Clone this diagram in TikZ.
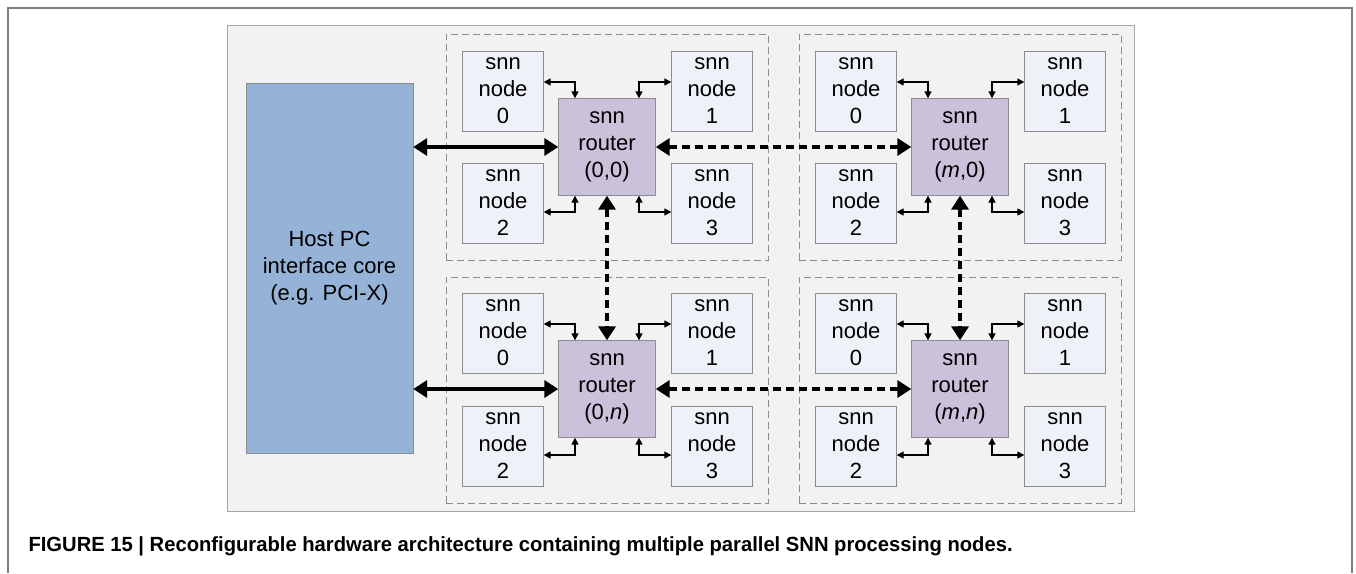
\documentclass[tikz,border=0pt]{standalone}
\usepackage{fontspec}
\setmainfont{Liberation Sans}
\newfontfamily\capfont[FakeStretch=0.985]{Liberation Sans}
\usepackage{tikz}
\usetikzlibrary{arrows.meta}
\definecolor{panel}{HTML}{F2F2F2}
\definecolor{panelline}{HTML}{A6A6A6}
\definecolor{frameline}{HTML}{7F7F7F}
\definecolor{boxline}{HTML}{8C8C8C}
\definecolor{hostfill}{HTML}{95B3D7}
\definecolor{snnfill}{HTML}{EEF2F8}
\definecolor{routerfill}{HTML}{CCC1DA}

\begin{document}
\begin{tikzpicture}[x=1pt,y=-1pt,
    snn/.style={draw=boxline, fill=snnfill, minimum width=81pt, minimum height=80pt, inner sep=0pt, align=center, font=\fontsize{22}{27}\selectfont},
    router/.style={snn, fill=routerfill, minimum width=97pt, minimum height=97pt},
    host/.style={snn, fill=hostfill, minimum width=167pt, minimum height=370pt},
    group/.style={draw=boxline, dash pattern=on 7pt off 4pt, line width=0.8pt, minimum width=322pt, minimum height=226pt},
    link/.style={{Triangle[length=7pt,width=7pt]}-{Triangle[length=7pt,width=7pt]}, line width=1.4pt},
    bus/.style={{Triangle[length=14pt,width=17pt]}-{Triangle[length=14pt,width=17pt]}, line width=3.8pt},
    dotbus/.style={bus, line width=4.4pt, dash pattern=on 8pt off 5pt}]
    \useasboundingbox (0,0) rectangle (1356,573);
    \draw[frameline, line width=1.5pt] (8,573) -- (8,8) -- (1352,8) -- (1352,573);
    \draw[panelline, fill=panel] (227,25) rectangle (1134,511);
    \node[host] at(329.5,268)(host){Host PC\\interface core\\(e.g. PCI-X)};
    % group (0,0)
    \node[group] at(607,147)(g00){};
    \node[router] at(607,147)(r00){snn\\router\\(0,0)};
    \node[snn] at(503,91)(a0){snn\\node\\0};
    \node[snn] at(712,91)(a1){snn\\node\\1};
    \node[snn] at(503,203)(a2){snn\\node\\2};
    \node[snn] at(712,203)(a3){snn\\node\\3};
    \draw[link] ([yshift=9pt]a0.east) -| ([xshift=-32pt]r00.north);
    \draw[link] ([yshift=9pt]a1.west) -| ([xshift=32pt]r00.north);
    \draw[link] ([yshift=-9pt]a2.east) -| ([xshift=-32pt]r00.south);
    \draw[link] ([yshift=-9pt]a3.west) -| ([xshift=32pt]r00.south);
    % group (m,0)
    \node[group] at(960,147)(gm0){};
    \node[router] at(960,147)(rm0){snn\\router\\(\textit{m},0)};
    \node[snn] at(856,91)(b0){snn\\node\\0};
    \node[snn] at(1065,91)(b1){snn\\node\\1};
    \node[snn] at(856,203)(b2){snn\\node\\2};
    \node[snn] at(1065,203)(b3){snn\\node\\3};
    \draw[link] ([yshift=9pt]b0.east) -| ([xshift=-32pt]rm0.north);
    \draw[link] ([yshift=9pt]b1.west) -| ([xshift=32pt]rm0.north);
    \draw[link] ([yshift=-9pt]b2.east) -| ([xshift=-32pt]rm0.south);
    \draw[link] ([yshift=-9pt]b3.west) -| ([xshift=32pt]rm0.south);
    % group (0,n)
    \node[group] at(607,390)(g0n){};
    \node[router] at(607,389)(r0n){snn\\router\\(0,\textit{n})};
    \node[snn] at(503,333)(c0){snn\\node\\0};
    \node[snn] at(712,333)(c1){snn\\node\\1};
    \node[snn] at(503,446)(c2){snn\\node\\2};
    \node[snn] at(712,446)(c3){snn\\node\\3};
    \draw[link] ([yshift=9pt]c0.east) -| ([xshift=-32pt]r0n.north);
    \draw[link] ([yshift=9pt]c1.west) -| ([xshift=32pt]r0n.north);
    \draw[link] ([yshift=-9pt]c2.east) -| ([xshift=-32pt]r0n.south);
    \draw[link] ([yshift=-9pt]c3.west) -| ([xshift=32pt]r0n.south);
    % group (m,n)
    \node[group] at(960,390)(gmn){};
    \node[router] at(960,389)(rmn){snn\\router\\(\textit{m},\textit{n})};
    \node[snn] at(856,333)(d0){snn\\node\\0};
    \node[snn] at(1065,333)(d1){snn\\node\\1};
    \node[snn] at(856,446)(d2){snn\\node\\2};
    \node[snn] at(1065,446)(d3){snn\\node\\3};
    \draw[link] ([yshift=9pt]d0.east) -| ([xshift=-32pt]rmn.north);
    \draw[link] ([yshift=9pt]d1.west) -| ([xshift=32pt]rmn.north);
    \draw[link] ([yshift=-9pt]d2.east) -| ([xshift=-32pt]rmn.south);
    \draw[link] ([yshift=-9pt]d3.west) -| ([xshift=32pt]rmn.south);
    % buses
    \draw[bus] (host.east |- r00) -- (r00.west);
    \draw[bus] (host.east |- r0n) -- (r0n.west);
    \draw[dotbus] (r00) edge (rm0) (r0n) edge (rmn) (r00) edge (r0n) (rm0) edge (rmn);
    \node[anchor=base west, font=\capfont\bfseries\fontsize{20.5}{24}\selectfont] at(25,551)(cap){FIGURE 15 | Reconfigurable hardware architecture containing multiple parallel SNN processing nodes.};
\end{tikzpicture}
\end{document}
